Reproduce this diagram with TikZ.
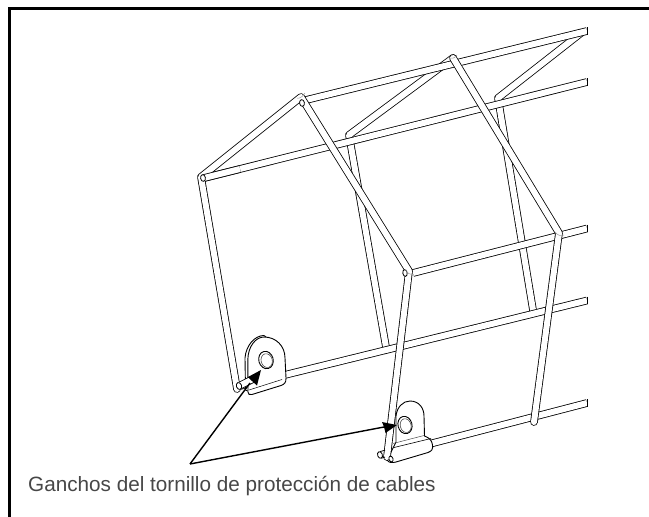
\documentclass[tikz,border=0pt]{standalone}
\usepackage{fontspec}
\setmainfont{Liberation Sans}
\newcommand{\tube}[2][]{%
 \draw[black,line width=7.6pt,line join=round,#1] #2;
 \draw[white,line width=6pt,line join=round,#1] #2;
}
\tikzset{
  seam/.style={draw=black!40,line width=0.5pt},
  edge/.style={draw=black,line width=0.8pt},
  lug/.style={draw=black,line width=0.9pt,fill=white},
  callout/.style={draw=black,line width=1.4pt},
  head/.style={fill=black,draw=none},
  capt/.style={font=\fontsize{20.7pt}{24pt}\selectfont,text=black!72,anchor=base west,inner sep=0pt}
}
\begin{document}
\begin{tikzpicture}[x=1pt,y=-1pt]
\useasboundingbox (0,0) rectangle (649,517);
\fill[white] (0,0) rectangle (649,517);
\draw[black,line width=2.8pt] (9.4,517) -- (9.4,8.6) -- (649,8.6);
% far frames
\tube[line cap=round]{(386,347) -- (349,135) -- (453,58)}
\tube[line cap=round]{(533,310) -- (498,98) -- (581,33)}
% long rods
\tube{(302,101) -- (587,31)}
\tube{(204,178) -- (587,82)}
\tube{(413,273) -- (587,228.5)}
\tube{(240,386) -- (587,300.5)}
\tube{(387,455) -- (587,403)}
\draw[edge] (587,27.2) -- (587,34.8) (587,78.2) -- (587,85.8) (587,224.7) -- (587,232.3) (587,296.7) -- (587,304.3) (587,399.2) -- (587,406.8);
% lug 1
\draw[lug] (245.5,390) -- (245,358) .. controls (246,345) and (255,335.5) .. (264,335.5) -- (270,340) -- (250,392) -- cycle;
\draw[lug] (248,392) -- (247.8,360) .. controls (248,346) and (256,337) .. (264,337) .. controls (276,337) and (285,346) .. (285,358) -- (286,378) .. controls (286,383) and (284.5,384) .. (281,385.5) -- (252,394.5) .. controls (249.5,395) and (248,394.5) .. cycle;
\draw[black,line width=0.5pt] (249,390) -- (282,379.5);
\draw[black,line width=0.9pt,rotate around={15:(266,360)}] (266,360) ellipse (7.2 and 8.8);
\draw[black!70,line width=0.6pt,rotate around={15:(266.7,360.6)}] (266.7,360.6) ellipse (5.6 and 7);
% lug 2
\draw[lug] (396,442) -- (396,416) .. controls (397,407) and (403,401) .. (410,401) .. controls (419,401) and (424,408) .. (424,416) -- (424.5,436) .. controls (430,438) and (432,441) .. (432.5,445) .. controls (433,449) and (432,451) .. (428,452.5) -- (396,462) .. controls (392,463) and (389,463) .. (387,460) -- cycle;
\draw[black!70,line width=0.5pt] (393,443.5) -- (424,435.5);
\draw[black,line width=0.6pt] (394,447.5) -- (431,438.5);
\draw[black,line width=0.9pt,rotate around={15:(405,425)}] (405,425) ellipse (7 and 8.8);
\draw[black!70,line width=0.6pt,rotate around={15:(405.7,425.6)}] (405.7,425.6) ellipse (5.4 and 7);
% near frames
\tube[line cap=round]{(237,389) -- (201,177) -- (301,97) -- (409,271) -- (387,457)}
\tube[line cap=round]{(453,58) -- (559,233) -- (534,422)}
% rod ends at the corners
\tube{(204,178) -- (240,169)}
\draw[edge,fill=white,rotate around={10:(203,178)}] (203,178) ellipse (2.4 and 3.4);
\draw[edge,fill=white,rotate around={10:(302,103)}] (302,103) ellipse (2.4 and 3.4);
\draw[edge,fill=white,rotate around={10:(405,273)}] (405,273) ellipse (2.2 and 3.4);
% stubs
\tube{(240,385.5) -- (255,378)}
\draw[edge,fill=white,rotate around={20:(239,386)}] (239,386) ellipse (2.6 and 3.6);
\draw[edge] (380,451.6) -- (385,450.2) (381.4,458.2) -- (385,457);
\draw[edge,fill=white,rotate around={20:(380,455)}] (380,455) ellipse (2.4 and 3.4);
\draw[edge,fill=white,rotate around={20:(391,459)}] (391,459) ellipse (2 and 3);
% seams
\draw[seam] (297,98) .. controls (300,99) and (303,96) .. (305,93);
\draw[seam] (449,58) .. controls (452,59) and (455,58) .. (457,55);
\draw[seam] (555,232) .. controls (558,236) and (561,236) .. (564,235);
\draw[seam] (406,270) .. controls (407,273) and (410,275) .. (413,274);
% callouts
\coordinate (src) at (190,464);
\coordinate (t1) at (261,370);
\coordinate (t2) at (397,425);
\draw[callout] (src) -- (250,383);
\draw[callout] (src) -- (384,427);
\fill[head] (t1) -- (248,377) -- (252,381) -- (257,385.5) -- cycle;
\fill[head] (t2) -- (382,422) -- (384,427) -- (385.5,433) -- cycle;
% caption
\node[capt] (caption) at (28,491.5) {Ganchos del tornillo de protección de cables};
\end{tikzpicture}
\end{document}
